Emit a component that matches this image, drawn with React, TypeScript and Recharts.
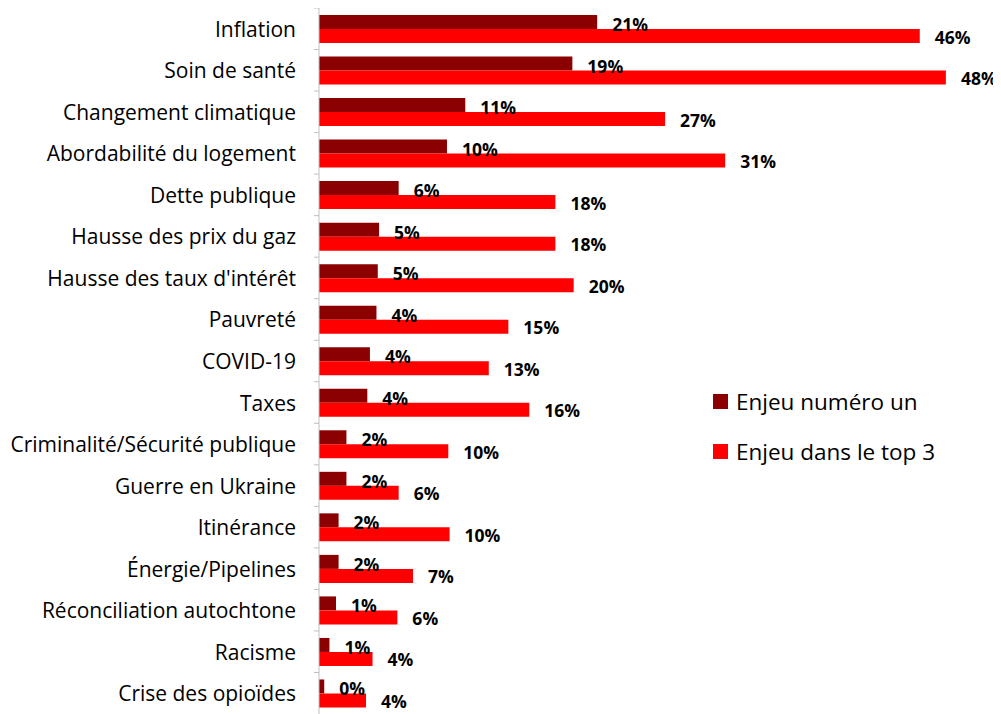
import { BarChart, Bar, XAxis, YAxis, LabelList } from "recharts";

const categories = [
  "Inflation",
  "Soin de santé",
  "Changement climatique",
  "Abordabilité du logement",
  "Dette publique",
  "Hausse des prix du gaz",
  "Hausse des taux d'intérêt",
  "Pauvreté",
  "COVID-19",
  "Taxes",
  "Criminalité/Sécurité publique",
  "Guerre en Ukraine",
  "Itinérance",
  "Énergie/Pipelines",
  "Réconciliation autochtone",
  "Racisme",
  "Crise des opioïdes",
];

const numeroUn = [21.3, 19.4, 11.2, 9.8, 6.1, 4.6, 4.5, 4.4, 3.9, 3.7, 2.1, 2.1, 1.5, 1.5, 1.3, 0.8, 0.4];
const top3 = [46, 48, 26.5, 31.1, 18.1, 18.1, 19.5, 14.5, 13, 16.1, 9.9, 6.1, 10, 7.2, 6, 4.1, 3.6];

const data = categories.map((name, i) => ({
  name,
  un: numeroUn[i],
  top: top3[i],
}));

const FONT = "'Open Sans', sans-serif";
const CHART_H = 706;
const BAND = CHART_H / categories.length;

const CategoryTick = (props: any) => {
  const { x, y, payload } = props;
  return (
    <g>
      <line x1={311} x2={306} y1={y - BAND / 2} y2={y - BAND / 2} stroke="#bfbfbf" />
      <text
        x={x - 15}
        y={y}
        textAnchor="end"
        dominantBaseline="central"
        fontFamily={FONT}
        fontSize={21}
        fill="#000"
      >
        {payload.value}
      </text>
    </g>
  );
};

const makeLabel = (dy: number) => (props: any) => {
  const { x, y, width, height, value } = props;
  return (
    <text
      x={x + width + 15}
      y={y + height / 2 + dy}
      dominantBaseline="central"
      fontFamily={FONT}
      fontWeight="bold"
      fontSize={17.5}
      fill="#000"
    >
      {Math.round(value)}%
    </text>
  );
};

const legendItems = [
  { label: "Enjeu numéro un", color: "#8b0000" },
  { label: "Enjeu dans le top 3", color: "#ff0000" },
];

export default function App() {
  return (
    <div style={{ position: "relative", width: 993, height: CHART_H }}>
      <style>{`body { overflow: hidden; } .recharts-surface { overflow: visible; }`}</style>
      <BarChart
        width={993}
        height={CHART_H}
        data={data}
        layout="vertical"
        barGap={0}
        margin={{ top: 0, right: 29, left: 0, bottom: 0 }}
      >
        <XAxis type="number" domain={[0, 50]} hide />
        <YAxis
          type="category"
          dataKey="name"
          width={311}
          interval={0}
          axisLine={{ stroke: "#bfbfbf" }}
          tickLine={false}
          tick={<CategoryTick />}
        />
        <Bar dataKey="un" name="Enjeu numéro un" fill="#8b0000" barSize={14} isAnimationActive={false}>
          <LabelList dataKey="un" content={makeLabel(2)} />
        </Bar>
        <Bar dataKey="top" name="Enjeu dans le top 3" fill="#ff0000" barSize={14} isAnimationActive={false}>
          <LabelList dataKey="top" content={makeLabel(0.5)} />
        </Bar>
      </BarChart>
      <div
        style={{
          position: "absolute",
          left: 705,
          top: 368,
          fontFamily: FONT,
          fontSize: 22.5,
          color: "#000",
        }}
      >
        {legendItems.map((it) => (
          <div key={it.label} style={{ height: 50, display: "flex", alignItems: "center" }}>
            <span style={{ width: 15, height: 15, background: it.color, marginRight: 8 }} />
            <span>{it.label}</span>
          </div>
        ))}
      </div>
    </div>
  );
}
